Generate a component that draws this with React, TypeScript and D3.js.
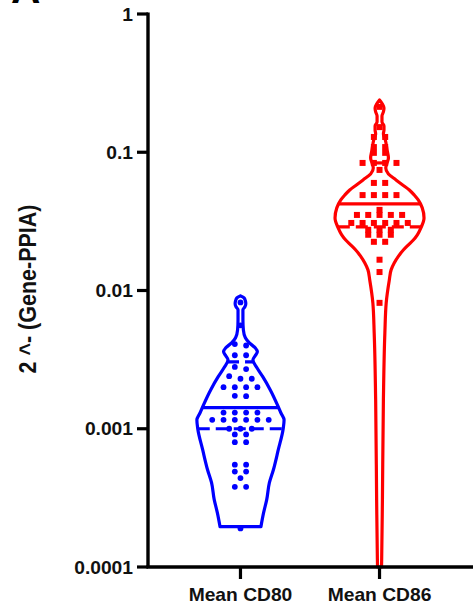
import React from 'react';
import * as d3 from 'd3';

// ---------- data ----------
const categories = ['Mean CD80', 'Mean CD86'];
const yTickValues = [0.0001, 0.001, 0.01, 0.1, 1];
const yTickLabels = ['0.0001', '0.001', '0.01', '0.1', '1'];
const yAxisTitle = '2 ^- (Gene-PPIA)';
const panelLabel = 'A';

const cd80Values = [
  0.0082, 0.0056,
  0.0041, 0.0040,
  0.0034, 0.0034,
  0.0027, 0.0028,
  0.0023, 0.0023, 0.0024,
  0.0020, 0.0020, 0.0020, 0.0020,
  0.00173, 0.00172,
  0.00131, 0.00131, 0.00131, 0.00131,
  0.00116, 0.00116, 0.00116, 0.00116, 0.00116, 0.00116,
  0.0010, 0.0010, 0.0010,
  0.00091, 0.00091,
  0.0008, 0.0008,
  0.00055, 0.00055,
  0.00049, 0.00049,
  0.00044,
  0.00038, 0.00038,
  0.00019,
];
const cd86Values = [
  0.213, 0.152,
  0.129, 0.129,
  0.109, 0.109,
  0.099, 0.099,
  0.0837, 0.0837, 0.0837, 0.0837,
  0.0745,
  0.060, 0.060,
  0.049, 0.049, 0.049, 0.049,
  0.0383,
  0.0352, 0.0352, 0.0352, 0.0352, 0.0352,
  0.0308, 0.0308, 0.0308, 0.0308, 0.0308, 0.0308,
  0.0275, 0.0275, 0.0275,
  0.0253, 0.0253, 0.0253,
  0.0225, 0.0225,
  0.0167, 0.0136, 0.00814,
];

const cd80Median = 0.00142;
const cd80Quartiles = [0.001, 0.00305];
const cd86Median = 0.0423;
const cd86Quartiles = [0.0289, 0.0837];

// violin outlines: value and relative density
const cd80ProfileValues = [
  0.00915, 0.00885, 0.00842, 0.00801, 0.00762, 0.00725, 0.00614, 0.00519,
  0.00455, 0.00418, 0.00385, 0.0036, 0.00337, 0.00315, 0.00276, 0.00238,
  0.00191, 0.00149, 0.0013, 0.00116, 0.001, 0.000705, 0.000505, 0.000407,
  0.000307, 0.000247, 0.000196,
];
const cd80ProfileDensity = [
  0, 0.08, 0.11, 0.12, 0.1, 0.055, 0.055, 0.065,
  0.11, 0.2, 0.33, 0.38, 0.33, 0.28, 0.37, 0.5,
  0.67, 0.83, 0.91, 0.98, 0.96, 0.85, 0.74, 0.65,
  0.59, 0.52, 0.46,
];
const cd86ProfileValues = [
  0.2389, 0.2236, 0.2091, 0.1956, 0.1831, 0.1657, 0.155, 0.145, 0.1357,
  0.1228, 0.1039, 0.091, 0.0837, 0.077, 0.0697, 0.0631, 0.058, 0.0534,
  0.0491, 0.0452, 0.0396, 0.0335, 0.0284, 0.0253, 0.0232, 0.0214, 0.0197,
  0.0178, 0.0158, 0.0141, 0.0119, 0.00814, 0.00494, 0.00162, 0.000307,
  0.000113, 0.0001,
];
const cd86ProfileDensity = [
  0, 0.065, 0.1, 0.087, 0.055, 0.055, 0.1, 0.1, 0.087,
  0.13, 0.17, 0.2, 0.17, 0.14, 0.2, 0.37, 0.52, 0.67,
  0.78, 0.87, 0.96, 1.0, 0.93, 0.85, 0.76, 0.65, 0.54,
  0.43, 0.33, 0.26, 0.22, 0.15, 0.12, 0.087, 0.065,
  0.048, 0.045,
];

const BLUE = '#0000ff';
const RED = '#ff0000';

// ---------- layout ----------
const W = 475;
const H = 605;
const axisX = 148;
const axisY = 567;
const topY = 14;
const rightX = 473;
const FONT = 'Arial, "Liberation Sans", Helvetica, sans-serif';

const y = d3.scaleLog().domain([0.0001, 1]).range([axisY, topY]);
const x = d3.scalePoint<string>().domain(categories).range([axisX, rightX - 1]).padding(0.665);
const halfWidth = d3.scaleLinear().domain([0, 1]).range([0, 44.5]);

function swarm(values: number[], cx: number) {
  const sorted = [...values].sort((a, b) => b - a);
  const groups: number[][] = [];
  let startY = -Infinity;
  for (const v of sorted) {
    const py = y(v);
    if (groups.length && py - startY <= 4) groups[groups.length - 1].push(v);
    else {
      groups.push([v]);
      startY = py;
    }
  }
  const pts: { x: number; y: number }[] = [];
  const step = 11.3;
  groups.forEach((g) => {
    g.forEach((v, i) => {
      pts.push({ x: cx + (i - (g.length - 1) / 2) * step, y: y(v) });
    });
  });
  return pts;
}

function Violin({
  cx, color, profV, profD, values, median, quartiles, shape,
}: {
  cx: number; color: string; profV: number[]; profD: number[]; values: number[];
  median: number; quartiles: number[]; shape: 'circle' | 'square';
}) {
  const data = profV.map((v, i) => [v, profD[i]] as [number, number]);
  const area = d3
    .area<[number, number]>()
    .y((d) => y(d[0]))
    .x0((d) => cx - halfWidth(d[1]))
    .x1((d) => cx + halfWidth(d[1]))
    .curve(d3.curveMonotoneY);
  const densityAt = d3.scaleLog().domain(profV).range(profD).clamp(true);
  const pts = swarm(values, cx);
  const line = (v: number, dashed: boolean, key: string) => {
    const hw = halfWidth(densityAt(v));
    return (
      <line
        key={key}
        x1={cx - hw}
        x2={cx + hw}
        y1={y(v)}
        y2={y(v)}
        stroke={color}
        strokeWidth={3.2}
        strokeDasharray={dashed ? '12 6' : undefined}
      />
    );
  };
  return (
    <g>
      <path d={area(data) || ''} fill="none" stroke={color} strokeWidth={3.2} strokeLinejoin="round" />
      {pts.map((p, i) =>
        shape === 'circle' ? (
          <circle key={i} cx={p.x} cy={p.y} r={2.9} fill={color} />
        ) : (
          <rect key={i} x={p.x - 3} y={p.y - 3} width={6} height={6} fill={color} />
        ),
      )}
      {line(median, false, 'm')}
      {quartiles.map((q, i) => line(q, true, 'q' + i))}
    </g>
  );
}

export default function App() {
  return (
    <svg
      width={W}
      height={H}
      style={{ position: 'absolute', left: 0, top: 0, background: '#fff' }}
      fontFamily={FONT}
    >
      <rect x={0} y={0} width={W} height={H} fill="#fff" />
      {/* panel label (cut off at top) */}
      <text x={0} y={0} transform="translate(11,3) scale(1.1,1)" fontSize={37} fontWeight="bold" fill="#000">
        {panelLabel}
      </text>

      <Violin
        cx={x(categories[0])!}
        color={BLUE}
        profV={cd80ProfileValues}
        profD={cd80ProfileDensity}
        values={cd80Values}
        median={cd80Median}
        quartiles={cd80Quartiles}
        shape="circle"
      />
      <Violin
        cx={x(categories[1])!}
        color={RED}
        profV={cd86ProfileValues}
        profD={cd86ProfileDensity}
        values={cd86Values}
        median={cd86Median}
        quartiles={cd86Quartiles}
        shape="square"
      />

      {/* y axis */}
      <line x1={axisX} x2={axisX} y1={topY - 1.6} y2={axisY} stroke="#000" strokeWidth={3.4} />
      {yTickValues.map((v, i) => (
        <g key={v}>
          <line x1={axisX - 11} x2={axisX} y1={y(v)} y2={y(v)} stroke="#000" strokeWidth={3.2} />
          <text
            transform={`translate(133,${y(v) + 6.5}) scale(1.1,1)`}
            textAnchor="end"
            fontSize={17.5}
            fontWeight="bold"
            fill="#111"
          >
            {yTickLabels[i]}
          </text>
        </g>
      ))}
      <text
        transform={`translate(28,289) scale(1.1,1) rotate(-90)`}
        textAnchor="middle"
        dominantBaseline="central"
        fontSize={21.5}
        fontWeight="bold"
        fill="#111"
      >
        {yAxisTitle}
      </text>

      {/* x axis */}
      <line x1={axisX - 1.6} x2={rightX} y1={axisY} y2={axisY} stroke="#000" strokeWidth={3.4} />
      {categories.map((c) => (
        <g key={c}>
          <line x1={x(c)!} x2={x(c)!} y1={axisY} y2={axisY + 12} stroke="#000" strokeWidth={3.2} />
          <text
            transform={`translate(${x(c)!},601) scale(1.1,1)`}
            textAnchor="middle"
            fontSize={17.5}
            fontWeight="bold"
            fill="#111"
          >
            {c}
          </text>
        </g>
      ))}
    </svg>
  );
}
